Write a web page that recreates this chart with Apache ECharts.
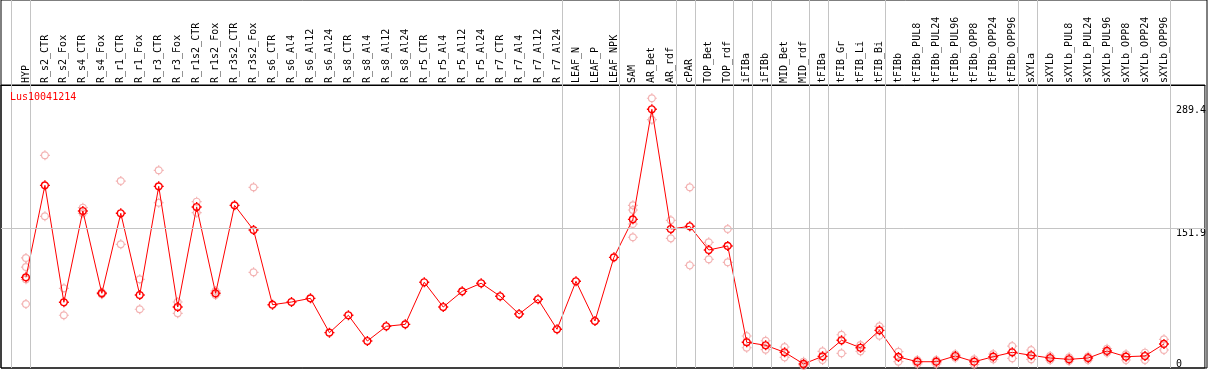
<!DOCTYPE html>
<html><head><meta charset="utf-8">
<script src="https://cdn.jsdelivr.net/npm/echarts@6/dist/echarts.min.js"></script>
<style>html,body{margin:0;padding:0;background:#fff}#c{width:1209px;height:370px}</style>
</head><body><div id="c"></div>
<script>
const categories = ['HYP','R_s2_CTR','R_s2_Fox','R_s4_CTR','R_s4_Fox','R_r1_CTR','R_r1_Fox','R_r3_CTR','R_r3_Fox','R_r1s2_CTR','R_r1s2_Fox','R_r3s2_CTR','R_r3s2_Fox','R_s6_CTR','R_s6_Al4','R_s6_Al12','R_s6_Al24','R_s8_CTR','R_s8_Al4','R_s8_Al12','R_s8_Al24','R_r5_CTR','R_r5_Al4','R_r5_Al12','R_r5_Al24','R_r7_CTR','R_r7_Al4','R_r7_Al12','R_r7_Al24','LEAF_N','LEAF_P','LEAF_NPK','SAM','AR_Bet','AR_rdf','cPAR','TOP_Bet','TOP_rdf','iFIBa','iFIBb','MID_Bet','MID_rdf','tFIBa','tFIB_Gr','tFIB_Li','tFIB_Bi','tFIBb','tFIBb_PUL8','tFIBb_PUL24','tFIBb_PUL96','tFIBb_OPP8','tFIBb_OPP24','tFIBb_OPP96','sXYLa','sXYLb','sXYLb_PUL8','sXYLb_PUL24','sXYLb_PUL96','sXYLb_OPP8','sXYLb_OPP24','sXYLb_OPP96'];

const meanValues = [97.2,199.8,69.4,171.2,79.4,168.6,77.5,198.7,64.1,175.6,79.4,177.5,150.0,66.7,69.7,73.8,35.5,54.9,26.2,42.6,44.8,91.7,64.1,81.6,90.6,76.1,56.3,72.7,39.3,92.8,48.5,119.5,161.9,284.6,151.1,154.1,127.7,132.2,24.8,21.4,13.6,0.6,9.1,27.0,18.7,38.1,8.4,3.1,3.1,9.5,3.1,8.7,13.6,10.3,7.2,5.8,7.2,15.1,8.7,9.5,22.9];

const rep1 = [118.8,233.3,85.0,174.9,80.5,204.6,95.0,216.6,69.7,181.6,82.0,null,197.6,null,null,null,null,null,null,null,null,null,null,null,null,null,null,null,null,null,null,null,177.5,296.9,160.8,197.6,136.3,151.1,31.8,26.5,19.5,3.1,14.7,33.2,21.7,42.6,14.3,5.0,5.0,11.4,5.8,11.7,20.6,16.2,9.5,8.0,8.9,17.6,11.4,13.2,28.1];
const rep2 = [67.5,165.3,54.9,168.6,78.3,134.0,61.6,180.4,57.1,169.3,77.5,null,102.8,null,null,null,null,null,null,null,null,null,null,null,null,null,null,null,null,null,null,null,141.9,273.0,140.7,110.6,117.3,114.0,18.7,16.5,8.0,-1.5,5.0,12.5,14.7,32.1,3.1,0.6,0.6,7.6,0.0,5.8,6.9,5.8,5.0,3.9,5.0,13.2,5.0,5.0,16.2];
const rep3 = [108.7,null,null,null,null,null,null,null,null,null,null,null,null,null,null,null,null,null,null,null,null,null,null,null,null,null,null,null,null,null,null,null,172.3,null,null,null,null,null,null,null,null,null,null,null,null,null,null,null,null,null,null,null,null,null,null,null,null,null,null,null,null];
const rep4 = [95.0,null,null,null,null,null,null,null,null,null,null,null,null,null,null,null,null,null,null,null,null,null,null,null,null,null,null,null,null,null,null,null,156.7,null,null,null,null,null,null,null,null,null,null,null,null,null,null,null,null,null,null,null,null,null,null,null,null,null,null,null,null];

const yUpperTicks = [151.9, 289.4];
const yLowerTicks = [0];
const gridLineValue = 151.9;
const separatorAfter = [-1,0,28,31,34,35,37,38,39,41,42,45,52,53,60];
const geneName = 'Lus10041214';

const FONT = 'DejaVu Sans Mono';
const tickPath = 'path://M8.4,5C8.4,6.88,6.88,8.4,5,8.4C3.12,8.4,1.6,6.88,1.6,5C1.6,3.12,3.12,1.6,5,1.6C6.88,1.6,8.4,3.12,8.4,5Z M5,0L5,1.6 M5,8.4L5,10 M0,5L1.6,5 M8.4,5L10,5';

const X_MIN = -25/19, X_MAX = 1181/19;

function repData(arr){ const out=[]; arr.forEach((v,i)=>{ if(v!==null) out.push([i,v]); }); return out; }
const repSeries = [rep1,rep2,rep3,rep4].map(r=>({
  type:'scatter', data: repData(r), symbol: tickPath, symbolSize: 10, z: 2,
  xAxisIndex:0, yAxisIndex:0,
  itemStyle:{color:'rgba(0,0,0,0)', borderColor:'#f0a0a0', borderWidth:1.2},
  silent:true
}));

const yBase = {type:'value', gridIndex:0, min:-3.9, max:311.7, position:'right', offset:-29,
  axisLine:{show:false}, axisTick:{show:false}, splitLine:{show:false}};

const chart = echarts.init(document.getElementById('c'), null, {renderer:'canvas'});
chart.setOption({
  animation:false,
  backgroundColor:'#fff',
  title:{text:geneName, left:10, top:92, padding:0, textStyle:{color:'#f00', fontFamily:FONT, fontSize:10, fontWeight:'normal'}},
  grid:[
    {left:1, right:2, top:85, bottom:2, show:true, borderColor:'#000', borderWidth:1, backgroundColor:'rgba(0,0,0,0)'},
    {left:1, right:2, top:0, bottom:2, show:true, borderColor:'#000', borderWidth:1, backgroundColor:'rgba(0,0,0,0)'}
  ],
  xAxis:[
    {type:'value', gridIndex:0, position:'top', min:X_MIN, max:X_MAX,
      axisLine:{show:true, onZero:false, lineStyle:{color:'#000', width:1}}, axisTick:{show:false}, splitLine:{show:false},
      axisLabel:{customValues: categories.map((c,i)=>i), formatter: v=>categories[Math.round(v)], rotate:-90, margin:2,
        fontFamily:FONT, fontSize:10, color:'#000', hideOverlap:false}},
    {type:'value', gridIndex:1, min:X_MIN, max:X_MAX, show:false}
  ],
  yAxis:[
    Object.assign({}, yBase, {axisLabel:{customValues:yUpperTicks, verticalAlign:'top', align:'left', margin:0, fontFamily:FONT, fontSize:10, color:'#000'}}),
    Object.assign({}, yBase, {axisLabel:{customValues:yLowerTicks, verticalAlign:'middle', align:'left', margin:0, fontFamily:FONT, fontSize:10, color:'#000'}}),
    {type:'value', gridIndex:1, min:0, max:1, show:false}
  ],
  series:[
    {type:'line', data:[], z:1, silent:true, xAxisIndex:1, yAxisIndex:2,
     markLine:{silent:true, symbol:'none', animation:false, label:{show:false},
       lineStyle:{color:'#c4c4c4', width:1, type:'solid'},
       data: separatorAfter.map(i=>({xAxis:i+0.23}))}},
    {type:'line', data:[], z:1, silent:true, xAxisIndex:0, yAxisIndex:0,
     markLine:{silent:true, symbol:'none', animation:false, label:{show:false},
       lineStyle:{color:'#c4c4c4', width:1, type:'solid'},
       data: [{yAxis:gridLineValue}]}},
    ...repSeries,
    {type:'line', data: meanValues.map((v,i)=>[i,v]), symbol: tickPath, symbolSize:10, z:3,
     xAxisIndex:0, yAxisIndex:0,
     lineStyle:{color:'#f00', width:1}, itemStyle:{color:'rgba(0,0,0,0)', borderColor:'#f00', borderWidth:1.4}}
  ]
});
</script></body></html>
